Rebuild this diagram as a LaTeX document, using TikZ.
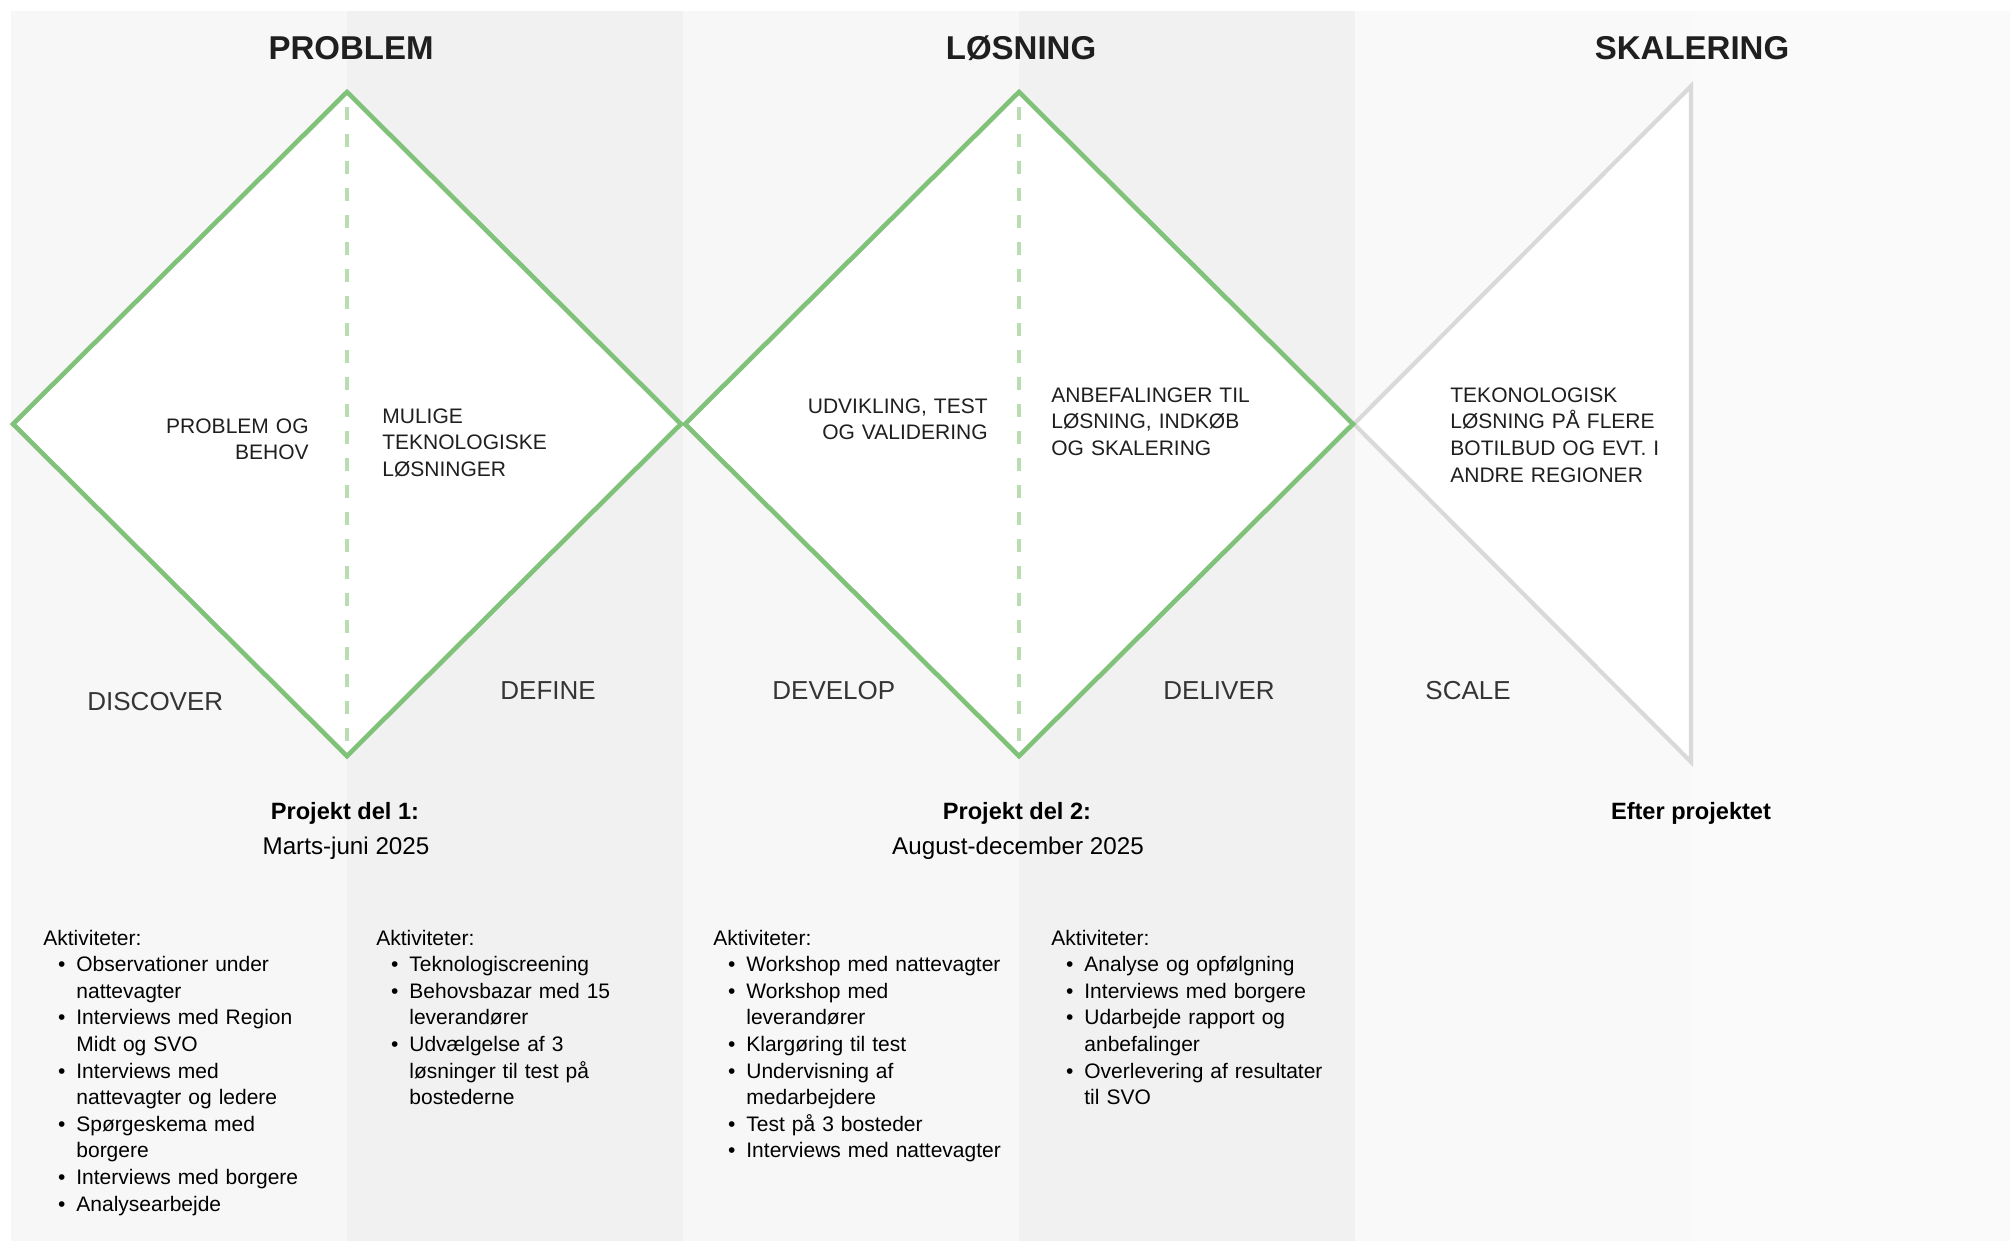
\documentclass[tikz,border=0pt]{standalone}
\usepackage{fontspec}
\setmainfont{Liberation Sans}
\usetikzlibrary{shapes.geometric}

\definecolor{ink}{HTML}{1F1F1F}
\definecolor{leafgreen}{HTML}{80C279}
\definecolor{palegreen}{HTML}{B7DDB0}
\definecolor{fadegray}{HTML}{D9D9D9}
\definecolor{lanea}{HTML}{F7F7F7}
\definecolor{laneb}{HTML}{F1F1F1}
\definecolor{lanec}{HTML}{F9F9F9}
\definecolor{laned}{HTML}{FAFAFA}

\tikzstyle{heading} = [font=\bfseries\fontsize{16.5}{20}\selectfont, text=ink, inner sep=0, anchor=base]
\tikzstyle{diamondbox} = [diamond, aspect=1, minimum width=334pt, minimum height=332pt, inner sep=0, outer sep=0, draw=leafgreen, line width=2.3pt, fill=white]
\tikzstyle{midline} = [draw=palegreen, line width=1.6pt, dash pattern=on 6.5pt off 7pt, shorten <=7.5pt, shorten >=3pt]
\tikzstyle{scaleline} = [draw=fadegray, line width=2.1pt, fill=white, line join=miter]
\tikzstyle{inside} = [font=\fontsize{10.5}{13.4}\selectfont, text=ink, inner sep=0, text width=120pt]
\tikzstyle{phase} = [font=\fontsize{13}{16}\selectfont, text=ink!90, inner sep=0, anchor=base west]
\tikzstyle{period} = [font=\bfseries\fontsize{11.8}{14}\selectfont, text=black, inner sep=0, anchor=base]
\tikzstyle{dates} = [font=\fontsize{12.1}{14}\selectfont, text=black, inner sep=0, anchor=base]
\tikzstyle{activities} = [font=\fontsize{10.5}{13.3}\selectfont, text=black, inner sep=0, text width=165pt, align=left, anchor=base west]

% bullet and hanging indent for the activity lists
\newcommand{\pkt}{\makebox[16.5pt][l]{\hspace{7.3pt}\textbullet}}
\newcommand{\fort}{\makebox[16.5pt]{}}

\begin{document}
\begin{tikzpicture}[x=0.5pt, y=-0.5pt]

\useasboundingbox (0,0) rectangle (2010,1244);

% lanes
\fill[lanea] (11,11) rectangle (347,1241);
\fill[laneb] (347,11) rectangle (683,1241);
\fill[lanea] (683,11) rectangle (1019,1241);
\fill[laneb] (1019,11) rectangle (1355,1241);
\fill[lanec] (1355,11) rectangle (1691,1241);
\fill[laned] (1691,11) rectangle (2010,1241);

\node (problem) [heading] at (351,59) {PROBLEM};
\node (losning) [heading] at (1021,59) {LØSNING};
\node (skalering) [heading] at (1692,59) {SKALERING};

% scale triangle
\coordinate (tip) at (1354,424);
\coordinate (sctop) at (1691,86);
\coordinate (scbot) at (1691,762);
\draw[scaleline] (tip) -- (sctop) -- (scbot) -- cycle;

% the two diamonds
\node (probdia) [diamondbox] at (347,424) {};
\node (losdia) [diamondbox] at (1019,424) {};
\draw[midline] (probdia.north) -- (probdia.south);
\draw[midline] (losdia.north) -- (losdia.south);

\node (behov) [inside, align=right, anchor=base east] at (309,433) {PROBLEM OG\\BEHOV};
\node (mulige) [inside, align=left, anchor=base west] at (382,423) {MULIGE\\TEKNOLOGISKE\\LØSNINGER};
\node (udvikling) [inside, align=right, anchor=base east] at (988,413) {UDVIKLING, TEST\\OG VALIDERING};
\node (anbefal) [inside, align=left, anchor=base west] at (1051,402) {ANBEFALINGER TIL\\LØSNING, INDKØB\\OG SKALERING};
\node (flere) [inside, align=left, anchor=base west] at (1450,402) {TEKONOLOGISK\\LØSNING PÅ FLERE\\BOTILBUD OG EVT. I\\ANDRE REGIONER};

\node (discover) [phase] at (87,710) {DISCOVER};
\node (define) [phase] at (500,699) {DEFINE};
\node (develop) [phase] at (772,699) {DEVELOP};
\node (deliver) [phase] at (1163,699) {DELIVER};
\node (scale) [phase] at (1425,699) {SCALE};

\node (del1) [period] at (345,819) {Projekt del 1:};
\node (marts) [dates] at (346,854) {Marts-juni 2025};
\node (del2) [period] at (1017,819) {Projekt del 2:};
\node (august) [dates] at (1018,854) {August-december 2025};
\node (efter) [period] at (1691,819) {Efter projektet};

% activity lists
\node (akt1) [activities] at (43,945) {Aktiviteter:\\
\pkt Observationer under\\
\fort nattevagter\\
\pkt Interviews med Region\\
\fort Midt og SVO\\
\pkt Interviews med\\
\fort nattevagter og ledere\\
\pkt Spørgeskema med\\
\fort borgere\\
\pkt Interviews med borgere\\
\pkt Analysearbejde};

\node (akt2) [activities] at (376,945) {Aktiviteter:\\
\pkt Teknologiscreening\\
\pkt Behovsbazar med 15\\
\fort leverandører\\
\pkt Udvælgelse af 3\\
\fort løsninger til test på\\
\fort bostederne};

\node (akt3) [activities] at (713,945) {Aktiviteter:\\
\pkt Workshop med nattevagter\\
\pkt Workshop med\\
\fort leverandører\\
\pkt Klargøring til test\\
\pkt Undervisning af\\
\fort medarbejdere\\
\pkt Test på 3 bosteder\\
\pkt Interviews med nattevagter};

\node (akt4) [activities] at (1051,945) {Aktiviteter:\\
\pkt Analyse og opfølgning\\
\pkt Interviews med borgere\\
\pkt Udarbejde rapport og\\
\fort anbefalinger\\
\pkt Overlevering af resultater\\
\fort til SVO};

\end{tikzpicture}
\end{document}
